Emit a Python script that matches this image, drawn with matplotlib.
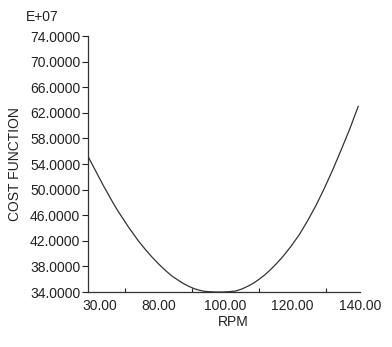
import numpy as np
import matplotlib
matplotlib.use("Agg")
import matplotlib.pyplot as plt

plt.rcParams['font.family'] = ['Liberation Sans', 'DejaVu Sans']

# curve (cost in units of E+07)
rpm = [59, 60.5, 62, 63.5, 65, 66.5, 68, 69.5, 71, 72.5, 74, 76, 78, 80, 82, 84,
       86, 87.5, 89, 90.5, 92, 93.5, 95, 97, 99, 101, 103, 105, 107, 108.5,
       110, 111.5, 113, 115, 117, 119.5, 122, 124.5, 127, 129.5, 132,
       134.5, 137, 139.5]
cost = [55.2, 53.7, 52.2, 50.7, 49.3, 47.9, 46.6, 45.4, 44.2, 43.1, 42.0,
        40.7, 39.5, 38.4, 37.4, 36.5, 35.8, 35.3, 34.9, 34.55, 34.3, 34.12,
        34.05, 34.0, 34.0, 34.05, 34.15, 34.5, 35.0, 35.45, 36.0, 36.6, 37.3,
        38.35, 39.5, 41.15, 43.0, 45.2, 47.6, 50.3, 53.2, 56.3, 59.5, 63.0]

ytick_vals = [34, 38, 42, 46, 50, 54, 58, 62, 66, 70, 74]
xlabel_pos = [62.5, 80, 100, 120, 140]
xlabel_txt = ['30.00', '80.00', '100.00', '120.00', '140.00']
xminor = [70, 80, 90, 100, 110, 120, 130, 140]

fig = plt.figure(figsize=(3.92, 3.47), dpi=100)
ax = fig.add_axes([0.2245, 0.1585, 0.6935, 0.7375])

ax.plot(rpm, cost, color='#333333', lw=0.9)

ax.set_xlim(59, 140)
ax.set_ylim(34, 74)

ax.set_yticks(ytick_vals)
ax.set_yticklabels([f'{v:.4f}' for v in ytick_vals])
ax.tick_params(axis='y', direction='out', length=4, width=0.8, pad=1.5,
               labelsize=10, colors='#222222')

ax.set_xticks(xlabel_pos)
ax.set_xticklabels(xlabel_txt)
ax.set_xticks(xminor, minor=True)
ax.tick_params(axis='x', which='major', length=0, pad=5, labelsize=10,
               colors='#222222')
ax.tick_params(axis='x', which='minor', direction='in', length=3, width=0.8,
               color='#222222')

for s in ['top', 'right']:
    ax.spines[s].set_visible(False)
for s in ['left', 'bottom']:
    ax.spines[s].set_linewidth(0.9)
    ax.spines[s].set_color('#333333')

ax.set_ylabel('COST FUNCTION', fontsize=10, color='#222222', labelpad=6)
ax.set_xlabel('RPM', fontsize=10, color='#222222', labelpad=0)
ax.xaxis.set_label_coords(0.533, -0.09)

fig.text(0.107, 0.95, 'E+07', fontsize=10, color='#222222', ha='center', va='center')

fig.savefig('out.png', dpi=100, facecolor='white')
